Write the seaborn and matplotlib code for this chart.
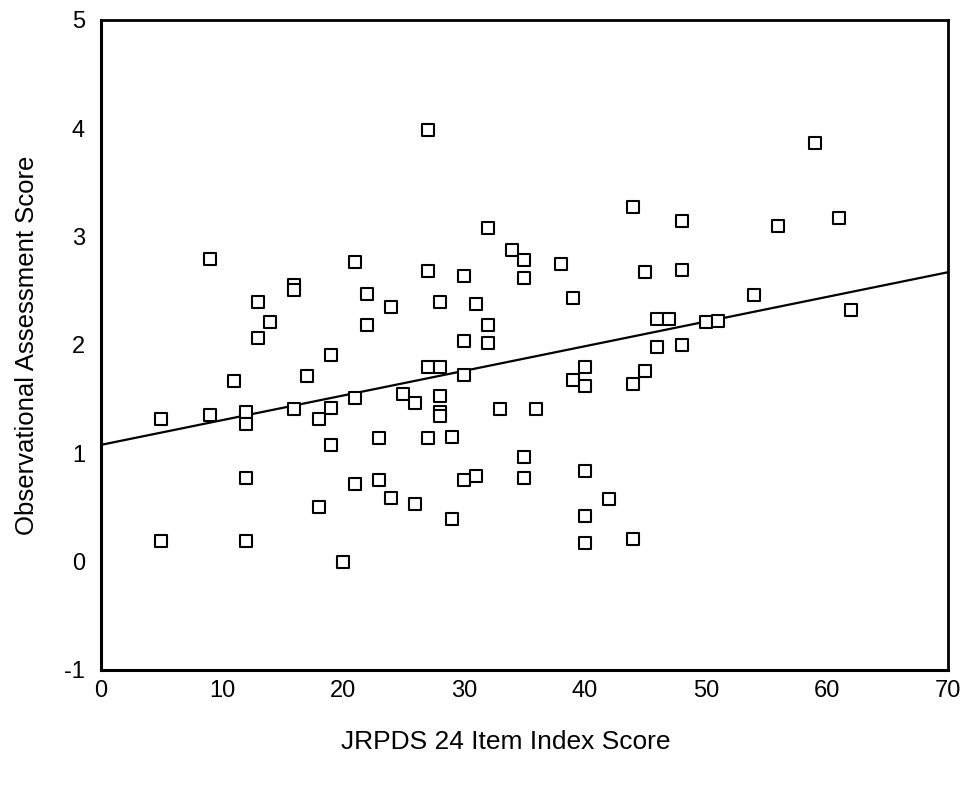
import matplotlib
matplotlib.use("Agg")
import matplotlib.pyplot as plt
import seaborn as sns
import pandas as pd

# JRPDS 24 item index score vs observational assessment score
jrpds_score = [
    5, 5, 9, 9, 11, 12, 12, 12, 12, 13, 13, 14, 16, 16, 16, 17, 18, 18,
    19, 19, 19, 20, 21, 21, 21, 22, 22, 23, 23, 24, 24, 25, 26, 26,
    27, 27, 27, 27, 28, 28, 28, 28, 28, 29, 29, 30, 30, 30, 30, 31, 31,
    32, 32, 32, 33, 34, 35, 35, 35, 35, 36, 38, 39, 39, 40, 40, 40, 40, 40,
    42, 44, 44, 44, 45, 45, 46, 46, 47, 48, 48, 48, 50, 51, 54, 56, 59, 61, 62,
]
observed_score = [
    1.32, 0.19, 2.79, 1.35, 1.67, 1.38, 1.27, 0.77, 0.19, 2.40, 2.06, 2.21,
    2.55, 2.51, 1.41, 1.71, 1.32, 0.50, 1.91, 1.42, 1.08, 0.00, 2.77, 1.51,
    0.72, 2.47, 2.18, 1.14, 0.75, 2.35, 0.59, 1.55, 1.46, 0.53,
    3.98, 2.68, 1.80, 1.14, 2.40, 1.80, 1.53, 1.38, 1.34, 1.15, 0.39,
    2.64, 2.04, 1.72, 0.75, 2.38, 0.79, 3.08, 2.18, 2.02, 1.41, 2.88,
    2.78, 2.62, 0.97, 0.77, 1.41, 2.75, 2.43, 1.68, 1.80, 1.62, 0.84, 0.42, 0.17,
    0.58, 3.27, 1.64, 0.21, 2.67, 1.76, 2.24, 1.98, 2.24, 3.14, 2.69, 2.00,
    2.21, 2.22, 2.46, 3.10, 3.86, 3.17, 2.32,
]

x_ticks = [0, 10, 20, 30, 40, 50, 60, 70]
y_ticks = [-1, 0, 1, 2, 3, 4, 5]

df = pd.DataFrame({"jrpds": jrpds_score, "obs": observed_score})

sns.set_style("white")
plt.rcParams["font.family"] = ["Liberation Sans", "DejaVu Sans"]
plt.rcParams["axes.unicode_minus"] = False
plt.rcParams["text.color"] = "black"
plt.rcParams["axes.labelcolor"] = "black"
plt.rcParams["xtick.color"] = "black"
plt.rcParams["ytick.color"] = "black"

fig = plt.figure(figsize=(9.67, 7.87), dpi=100)
ax = fig.add_axes([0.1044, 0.1487, 0.8756, 0.8259])

ax.set_xlim(0, 70)
ax.set_ylim(-1, 5)

# line fitted by seaborn, extended across the full x range
sns.regplot(data=df, x="jrpds", y="obs", ax=ax, ci=None, truncate=False,
            marker="s",
            scatter_kws={"s": 64, "facecolors": "white", "edgecolors": "black",
                         "linewidths": 1.5, "alpha": 1, "zorder": 3},
            line_kws={"color": "black", "linewidth": 1.6, "zorder": 2})

ax.set_xlim(0, 70)
ax.set_ylim(-1, 5)
ax.set_xticks(x_ticks)
ax.set_yticks(y_ticks)
# small square ticks sitting just outside the spines
ax.tick_params(direction="out", length=4.5, width=4, color="black",
               labelsize=17)
ax.tick_params(axis="y", pad=7)
ax.tick_params(axis="x", pad=2.5)

for side in ["left", "bottom"]:
    ax.spines[side].set_linewidth(2.2)
    ax.spines[side].set_color("black")
for side in ["top", "right"]:
    ax.spines[side].set_linewidth(2.0)
    ax.spines[side].set_color("black")
    ax.spines[side].set_visible(True)

ax.set_xlabel("JRPDS 24 Item Index Score", fontsize=19)
ax.set_ylabel("Observational Assessment Score", fontsize=18.5)
ax.xaxis.label.set_va("center")
ax.yaxis.label.set_va("center")
ax.xaxis.set_label_coords(0.478, -0.111)
ax.yaxis.set_label_coords(-0.0874, 0.5)

fig.savefig("out.png", dpi=100, facecolor="white")
